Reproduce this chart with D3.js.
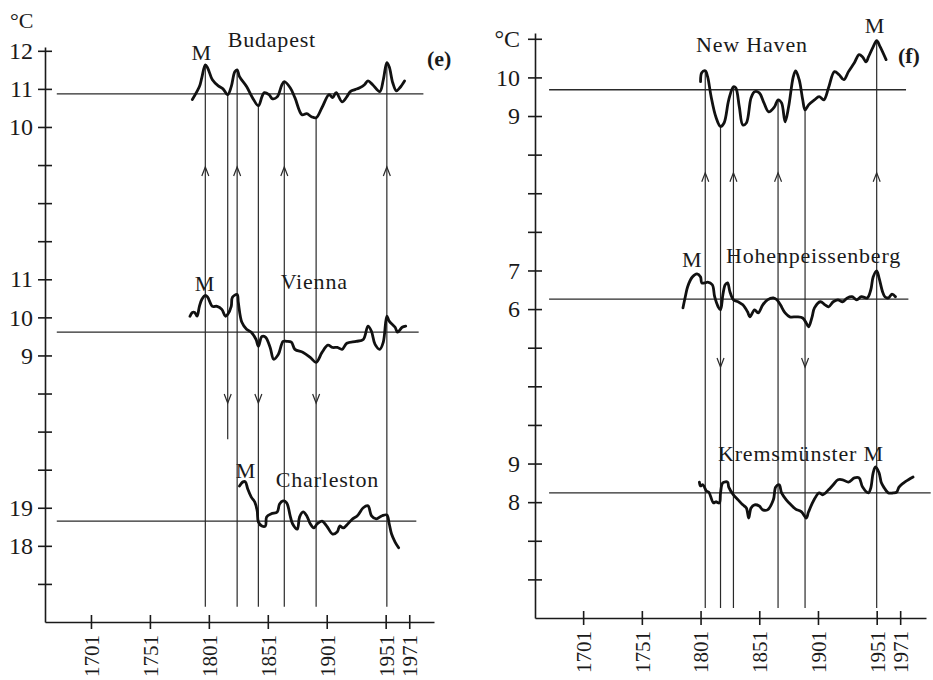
<!DOCTYPE html>
<html>
<head>
<meta charset="utf-8">
<script src="https://cdn.jsdelivr.net/npm/d3@7"></script>
<style>
  body { margin: 0; background: #fff; }
  svg { font-family: "Liberation Serif", "Times New Roman", serif; }
  .axis path, .axis line { stroke: #1a1a1a; stroke-width: 1.6; }
  .axis text { font-size: 24px; fill: #1a1a1a; font-family: "Liberation Serif", serif; }
  .xaxis text { font-size: 21px; }
  .mean { stroke: #2a2a2a; stroke-width: 1.3; }
  .marker { stroke: #2a2a2a; stroke-width: 1.2; fill: none; }
  .curve { fill: none; stroke: #111; stroke-width: 2.8; stroke-linejoin: round; stroke-linecap: round; }
  .label { font-size: 22px; fill: #1a1a1a; letter-spacing: 0.8px; }
  .panel-id { font-size: 22px; font-weight: bold; fill: #1a1a1a; }
</style>
</head>
<body>
<svg id="chart" width="933" height="680"></svg>
<script>
// ---- data ----
const yearTicks = [1701, 1751, 1801, 1851, 1901, 1951, 1971];
const leftTickLabels = ["12", "11", "10", "", "", "", "11", "10", "9", "", "", "", "19", "18", ""];
const rightTickLabels = ["°C", "10", "9", "", "", "", "7", "6", "", "", "", "9", "8", "", ""];

const budapest = [[1787,10.72],[1793,11.06],[1795,11.29],[1798,11.63],[1800,11.55],[1804,11.24],[1809,11.08],[1813,11.00],[1817,10.85],[1820,11.06],[1823,11.45],[1825,11.50],[1827,11.32],[1833,11.06],[1838,10.77],[1843,10.56],[1846,10.79],[1848,10.90],[1852,10.85],[1855,10.74],[1859,10.79],[1863,11.11],[1865,11.19],[1870,11.03],[1874,10.77],[1880,10.32],[1884,10.35],[1888,10.27],[1892,10.24],[1897,10.51],[1903,10.85],[1906,10.77],[1909,10.90],[1914,10.66],[1918,10.79],[1921,10.93],[1925,10.98],[1929,11.03],[1933,11.11],[1936,11.21],[1940,11.11],[1946,10.93],[1949,11.24],[1952,11.69],[1954,11.58],[1957,11.16],[1960,10.95],[1963,11.03],[1967,11.21]];
const vienna = [[1785,10.03],[1787,10.13],[1789,10.13],[1791,10.03],[1793,10.29],[1795,10.47],[1798,10.58],[1800,10.53],[1804,10.29],[1808,10.29],[1812,10.21],[1815,10.03],[1817,10.08],[1820,10.29],[1821,10.53],[1825,10.60],[1826,10.39],[1829,9.87],[1833,9.69],[1837,9.61],[1841,9.42],[1843,9.24],[1846,9.50],[1849,9.48],[1853,9.21],[1856,8.90],[1860,9.03],[1864,9.37],[1867,9.37],[1871,9.35],[1874,9.16],[1881,9.08],[1887,8.95],[1892,8.82],[1897,9.08],[1902,9.27],[1906,9.21],[1910,9.21],[1914,9.16],[1918,9.32],[1926,9.37],[1932,9.42],[1936,9.77],[1939,9.63],[1942,9.29],[1946,9.16],[1949,9.35],[1952,10.03],[1954,9.90],[1959,9.74],[1961,9.61],[1965,9.74],[1968,9.77]];
const charleston = [[1827,19.57],[1830,19.68],[1832,19.68],[1834,19.49],[1837,19.28],[1840,19.15],[1842,18.92],[1843,18.63],[1846,18.52],[1849,18.52],[1850,18.76],[1854,18.84],[1859,18.89],[1861,19.10],[1864,19.18],[1867,19.13],[1870,18.79],[1872,18.58],[1876,18.44],[1878,18.76],[1881,18.89],[1884,18.79],[1887,18.58],[1890,18.47],[1893,18.58],[1897,18.65],[1901,18.52],[1906,18.31],[1910,18.37],[1912,18.52],[1915,18.47],[1919,18.58],[1923,18.71],[1927,18.79],[1932,19.00],[1936,19.05],[1939,18.79],[1943,18.71],[1948,18.79],[1952,18.81],[1954,18.58],[1956,18.31],[1959,18.10],[1962,17.95]];

const newHaven = [[1801,9.89],[1802,10.12],[1805,10.17],[1807,10.02],[1810,9.50],[1814,8.98],[1818,8.73],[1821,8.82],[1825,9.42],[1829,9.76],[1831,9.73],[1834,9.24],[1837,8.77],[1840,8.82],[1844,9.47],[1847,9.63],[1851,9.60],[1855,9.34],[1859,9.11],[1864,9.24],[1867,9.42],[1870,9.34],[1873,8.85],[1876,9.24],[1880,10.02],[1882,10.17],[1885,9.94],[1888,9.42],[1890,9.16],[1893,9.29],[1898,9.42],[1902,9.50],[1906,9.42],[1910,9.73],[1915,10.15],[1919,10.07],[1923,9.94],[1927,10.15],[1932,10.38],[1936,10.59],[1939,10.53],[1942,10.40],[1944,10.53],[1948,10.79],[1951,10.95],[1954,10.79],[1959,10.46]];
const hohenpeissenberg = [[1786,6.03],[1788,6.32],[1790,6.58],[1794,6.83],[1798,6.91],[1801,6.83],[1802,6.68],[1805,6.68],[1807,6.70],[1811,6.63],[1813,6.32],[1816,6.06],[1818,5.98],[1820,6.37],[1822,6.63],[1824,6.68],[1826,6.45],[1829,6.24],[1833,6.19],[1837,6.11],[1841,5.93],[1843,5.80],[1847,5.98],[1850,5.90],[1854,6.11],[1858,6.24],[1863,6.29],[1866,6.24],[1869,6.11],[1873,5.90],[1877,5.80],[1883,5.80],[1888,5.77],[1891,5.64],[1893,5.54],[1896,5.80],[1898,6.03],[1903,6.19],[1907,6.11],[1910,6.06],[1914,6.19],[1918,6.24],[1922,6.19],[1926,6.29],[1930,6.32],[1934,6.24],[1938,6.32],[1943,6.29],[1946,6.50],[1948,6.83],[1951,6.99],[1953,6.81],[1956,6.45],[1958,6.32],[1961,6.29],[1964,6.39],[1967,6.32]];
const kremsmunster = [[1800,8.52],[1801,8.42],[1803,8.45],[1806,8.29],[1808,8.26],[1812,7.98],[1814,8.01],[1817,7.98],[1818,8.24],[1820,8.50],[1824,8.52],[1825,8.39],[1829,8.19],[1833,8.06],[1837,7.93],[1840,7.85],[1842,7.59],[1844,7.85],[1847,7.93],[1851,7.90],[1854,7.80],[1858,7.80],[1863,8.06],[1865,8.39],[1868,8.45],[1870,8.24],[1874,8.06],[1878,7.93],[1882,7.82],[1887,7.75],[1891,7.59],[1893,7.75],[1898,8.08],[1902,8.24],[1905,8.19],[1910,8.32],[1914,8.45],[1918,8.58],[1922,8.58],[1927,8.52],[1932,8.63],[1936,8.63],[1939,8.39],[1944,8.24],[1946,8.37],[1948,8.76],[1950,8.91],[1953,8.76],[1955,8.50],[1957,8.39],[1961,8.24],[1965,8.24],[1968,8.26],[1970,8.39],[1974,8.50],[1978,8.58],[1982,8.65]];

// long-term means (°C) and how far the mean line runs
const leftMeans = [10.87, 9.61, 18.65];
const leftMeanEnds = [1983, 1979, 1977];
const rightMeans = [9.68, 6.26, 8.24];
const rightMeanEnds = [1976, 1978, 1997];

// maximum years (vertical lines), value where each starts on the top curve
const leftMarkerYears = [1798, 1817, 1825, 1843, 1865, 1892, 1952];
const leftMarkerTop = [11.63, 10.85, 11.50, 10.56, 11.19, 10.24, 11.69];
const leftMarkerArrow = ["up", "down", "up", "down", "up", "down", "up"];
const rightMarkerYears = [1805, 1818, 1829, 1867, 1890, 1951];
const rightMarkerTop = [10.17, 8.72, 9.76, 9.42, 9.16, 10.95];
const rightMarkerArrow = ["up", "down", "up", "up", "down", "up"];

const svg = d3.select("#chart");

function drawPanel(cfg) {
  const g = svg.append("g");

  const x = d3.scaleLinear().domain(cfg.xDomain).range(cfg.xRange);
  // slot scale: one slot per tick on the shared vertical axis
  const slot = d3.scaleLinear().domain([cfg.slotTop, 15]).range(cfg.yRange);

  // each station gets its own °C scale placed on the shared slot axis
  const stations = cfg.series.map((s) => {
    const y = d3.scaleLinear()
      .domain([s.topValue, s.topValue - 1])
      .range([slot(s.topSlot), slot(s.topSlot + 1)]);
    return Object.assign({}, s, { y });
  });

  const xLeft = cfg.xRange[0];
  const yBottom = cfg.yRange[1];

  // mean lines
  g.selectAll("line.mean")
    .data(stations)
    .join("line")
    .attr("class", "mean")
    .attr("x1", x(1672))
    .attr("x2", (d) => x(d.meanEnd))
    .attr("y1", (d) => d.y(d.mean))
    .attr("y2", (d) => d.y(d.mean));

  // vertical marker lines
  const top = stations[0];
  const markers = cfg.markerYears.map((yr, i) => ({
    year: yr,
    top: cfg.markerTop[i],
    arrow: cfg.markerArrow[i],
    bottom: cfg.shortMarkers.includes(yr) ? cfg.shortBottom : cfg.markerBottom
  }));

  g.selectAll("line.marker")
    .data(markers)
    .join("line")
    .attr("class", "marker")
    .attr("x1", (d) => x(d.year))
    .attr("x2", (d) => x(d.year))
    .attr("y1", (d) => top.y(d.top))
    .attr("y2", (d) => slot(d.bottom));

  g.selectAll("path.arrow")
    .data(markers)
    .join("path")
    .attr("class", "marker")
    .attr("d", (d) => {
      const cx = x(d.year);
      const cy = slot(d.arrow === "up" ? cfg.upArrow : cfg.downArrow);
      const k = d.arrow === "up" ? 9 : -9;
      return `M${cx - 3.5},${cy + k}L${cx},${cy}L${cx + 3.5},${cy + k}`;
    });

  // curves
  const line = d3.line().curve(d3.curveCatmullRom.alpha(0.5));
  g.selectAll("path.curve")
    .data(stations)
    .join("path")
    .attr("class", "curve")
    .attr("d", (s) => line(s.data.map((p) => [x(p[0]), s.y(p[1])])));

  // axes
  const yAxis = g.append("g")
    .attr("class", "axis")
    .attr("transform", `translate(${xLeft},0)`)
    .call(
      d3.axisLeft(slot)
        .tickValues(d3.range(0, 15))
        .tickFormat((d) => cfg.tickLabels[d])
        .tickSize(7)
        .tickSizeOuter(0)
        .tickPadding(cfg.tickPad)
    );
  yAxis.selectAll(".tick line").attr("x1", -7).attr("x2", 7);

  const xAxis = g.append("g")
    .attr("class", "axis xaxis")
    .attr("transform", `translate(0,${yBottom})`)
    .call(d3.axisBottom(x).tickValues(yearTicks).tickFormat(d3.format("d")).tickSize(7).tickSizeOuter(0));
  xAxis.selectAll(".tick line").attr("y1", -7).attr("y2", 7);
  xAxis.selectAll(".tick text")
    .attr("transform", "rotate(-90)")
    .attr("x", -13)
    .attr("y", 0)
    .attr("dy", "0.35em")
    .style("text-anchor", "end");

  // station names and "M" marks
  stations.forEach((s) => {
    g.append("text")
      .attr("class", "label")
      .attr("x", x(s.nameAt[0]))
      .attr("y", s.y(s.nameAt[1]))
      .text(s.name);
    if (s.mAt) {
      g.append("text")
        .attr("class", "label")
        .attr("text-anchor", "middle")
        .attr("x", x(s.mAt[0]))
        .attr("y", s.y(s.mAt[1]))
        .text("M");
    }
  });

  g.append("text")
    .attr("class", "panel-id")
    .attr("x", x(cfg.idAt[0]))
    .attr("y", slot(cfg.idAt[1]))
    .text(cfg.id);

  return g;
}

const left = drawPanel({
  xDomain: [1662, 1992], xRange: [45, 434],
  slotTop: -0.1, yRange: [47, 622],
  tickLabels: leftTickLabels, tickPad: 5,
  series: [
    { name: "Budapest", data: budapest, topSlot: 0, topValue: 12, mean: leftMeans[0], meanEnd: leftMeanEnds[0], nameAt: [1817, 12.1], mAt: [1795, 11.76] },
    { name: "Vienna", data: vienna, topSlot: 6, topValue: 11, mean: leftMeans[1], meanEnd: leftMeanEnds[1], nameAt: [1862, 10.75], mAt: [1797.6, 10.7] },
    { name: "Charleston", data: charleston, topSlot: 12, topValue: 19, mean: leftMeans[2], meanEnd: leftMeanEnds[2], nameAt: [1857.8, 19.55], mAt: [1832.4, 19.78] }
  ],
  markerYears: leftMarkerYears, markerTop: leftMarkerTop, markerArrow: leftMarkerArrow,
  markerBottom: 14.6, shortMarkers: [1817], shortBottom: 10.2,
  upArrow: 3.05, downArrow: 9.25,
  id: "(e)", idAt: [1986, 0.39]
});

left.append("text")
  .attr("x", 10)
  .attr("y", 28)
  .style("font-size", "22px")
  .style("fill", "#1a1a1a")
  .text("°C");

drawPanel({
  xDomain: [1660, 1993], xRange: [535, 926],
  slotTop: -0.15, yRange: [33, 618],
  tickLabels: rightTickLabels, tickPad: 8,
  series: [
    { name: "New Haven", data: newHaven, topSlot: 1, topValue: 10, mean: rightMeans[0], meanEnd: rightMeanEnds[0], nameAt: [1797.2, 10.66], mAt: [1949.5, 11.16] },
    { name: "Hohenpeissenberg", data: hohenpeissenberg, topSlot: 6, topValue: 7, mean: rightMeans[1], meanEnd: rightMeanEnds[1], nameAt: [1822.7, 7.2], mAt: [1793.8, 7.09] },
    { name: "Kremsmünster M", data: kremsmunster, topSlot: 11, topValue: 9, mean: rightMeans[2], meanEnd: rightMeanEnds[2], nameAt: [1815.9, 9.07], mAt: null }
  ],
  markerYears: rightMarkerYears, markerTop: rightMarkerTop, markerArrow: rightMarkerArrow,
  markerBottom: 14.74, shortMarkers: [], shortBottom: 14.74,
  upArrow: 3.47, downArrow: 8.5,
  id: "(f)", idAt: [1969.1, 0.62]
});
</script>
</body>
</html>
